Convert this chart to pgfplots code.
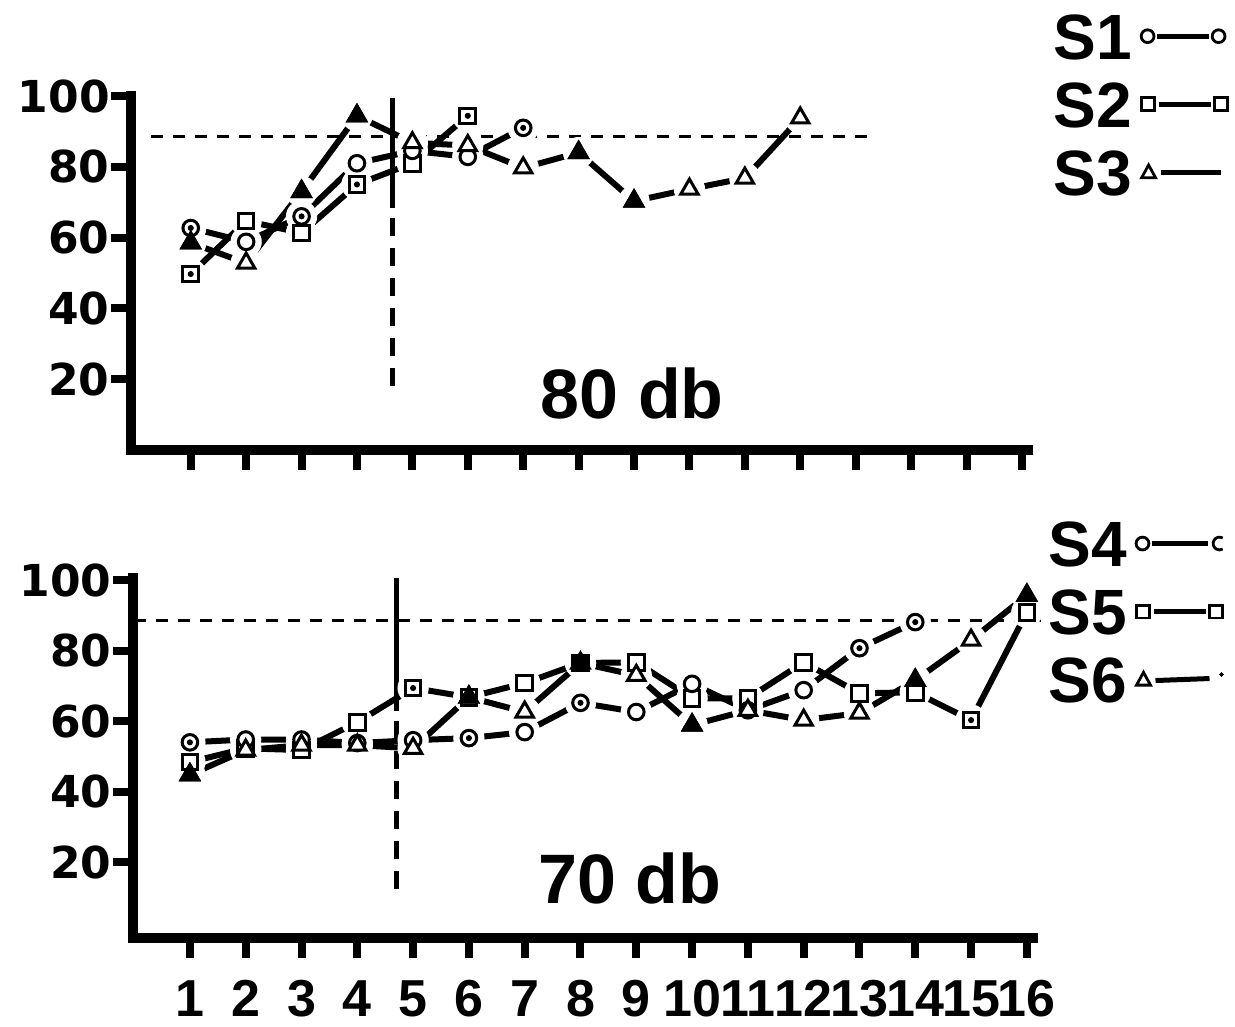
\documentclass[border=0pt]{standalone}
\usepackage{pgfplots}
\pgfplotsset{compat=1.18}
\usepackage{fontspec}
\setmainfont{Liberation Sans}
\newfontfamily\dvfont{DejaVu Sans}

\pgfplotsset{
  base/.style={
    scale only axis, anchor=south west, clip=false,
    axis lines=left,
    x axis line style={-, line width=5bp, line cap=rect},
    y axis line style={-, line width=5bp, line cap=rect},
    xtick={1,...,16}, ytick={20,40,60,80,100},
    yticklabels={20,40,60,80,100},
    tick align=outside, major tick length=10bp,
    tick style={line width=4bp, black},
    yticklabel style={font=\dvfont\bfseries\fontsize{22bp}{22bp}\selectfont, inner sep=0.5bp, anchor=east},
    xticklabel style={font=\bfseries\fontsize{26bp}{26bp}\selectfont, inner sep=0pt, anchor=north, yshift=-11bp},
    /pgf/number format/assume math mode=true,
    legend style={draw=none, fill=none, anchor=north west,
      font=\bfseries\fontsize{32bp}{32bp}\selectfont, inner sep=0pt,
      row sep=11bp, column sep=4bp,
      nodes={inner sep=0pt, text height=23bp, text depth=0pt}},
    legend plot pos=right, legend cell align=left,
  },
  ln/.style={black, line width=3bp, no markers, forget plot},
  halo/.style={only marks, mark=*, mark size=7.6bp, mark options={draw=white, fill=white}, forget plot},
  circ/.style={only marks, mark=*, mark size=3.9bp, mark options={line width=1.5bp, draw=black, fill=white}, forget plot},
  sq/.style={only marks, mark=square*, mark size=3.9bp, mark options={line width=1.5bp, draw=black, fill=white}, forget plot},
  tri/.style={only marks, mark=triangle*, mark size=5bp, mark options={line width=1.5bp, draw=black, fill=white}, forget plot},
  trif/.style={only marks, mark=triangle*, mark size=5bp, mark options={line width=1.5bp, draw=black, fill=black}, forget plot},
  sqf/.style={only marks, mark=square*, mark size=3.9bp, mark options={line width=1.5bp, draw=black, fill=black}, forget plot},
  dot/.style={only marks, mark=*, mark size=1.3bp, mark options={draw=black, fill=black}, forget plot},
  refl/.style={black, line width=2.5bp, no markers, forget plot},
  refd/.style={black, line width=2.5bp, dash pattern=on 9bp off 6bp, no markers, forget plot},
  crit/.style={black, line width=1.5bp, dash pattern=on 6bp off 5bp, no markers, forget plot},
  legcirc/.style={legend image code/.code={
    \draw[line width=2.5bp] (8bp,0) -- (34bp,0);
    \draw[line width=1.4bp] (3.5bp,0) circle (3.2bp);
    \draw[line width=1.4bp] (39bp,0) circle (3.2bp);}},
  legcircc/.style={legend image code/.code={
    \draw[line width=2.5bp] (8bp,0) -- (36bp,0);
    \draw[line width=1.4bp] (3.5bp,0) circle (3.2bp);
    \draw[line width=1.4bp] (42bp,0) ++(60:3.2bp) arc (60:300:3.2bp);}},
  legsq/.style={legend image code/.code={
    \draw[line width=2.5bp] (9bp,0) -- (35bp,0);
    \draw[line width=1.4bp] (0.5bp,-3.2bp) rectangle (6.9bp,3.2bp);
    \draw[line width=1.4bp] (37bp,-3.2bp) rectangle (43.4bp,3.2bp);}},
  legtri/.style={legend image code/.code={
    \draw[line width=2.5bp] (10bp,0) -- (40bp,0);
    \draw[line width=1.4bp] (0.5bp,-2.8bp) -- (7.5bp,-2.8bp) -- (4bp,3.6bp) -- cycle;}},
  legtrid/.style={legend image code/.code={
    \draw[line width=2.5bp] (10bp,-0.5bp) -- (37bp,0.5bp);
    \draw[line width=1.4bp] (0.5bp,-2.8bp) -- (7.5bp,-2.8bp) -- (4bp,3.6bp) -- cycle;
    \fill (43bp,2.5bp) circle (0.9bp);}},
}

\pgfplotstableread{
x y
1 62.7
2 58.8
3 66.0
4 81.0
5 84.5
6 82.8
7 91.0
}\sone
\pgfplotstableread{
x y
1 49.7
2 64.7
3 61.3
4 75.0
5 81.0
6 94.4
}\stwo
\pgfplotstableread{
x y
1 58.5
2 52.8
3 73.0
4 94.4
5 86.8
6 86.0
7 79.7
8 84.0
9 70.3
10 73.7
11 76.8
12 93.8
}\sthree
\pgfplotstableread{
x y
1 54.0
2 54.8
3 54.8
4 53.8
5 54.6
6 55.2
7 56.9
8 65.2
9 62.6
10 70.6
11 63.1
12 68.8
13 80.7
14 88.1
}\sfour
\pgfplotstableread{
x y
1 48.4
2 52.3
3 51.8
4 59.7
5 69.4
6 66.8
7 70.8
8 76.5
9 76.7
10 66.5
11 66.5
12 76.7
13 67.9
14 68.2
15 60.3
16 90.9
}\sfive
\pgfplotstableread{
x y
1 44.8
2 51.8
3 53.2
4 53.2
5 52.3
6 66.8
7 62.6
8 76.5
9 73.0
10 58.9
11 63.1
12 60.3
13 62.3
14 71.6
15 83.0
16 95.7
}\ssix

\begin{document}
\begin{tikzpicture}
\path[use as bounding box] (0,0) rectangle (617.5bp,513.5bp);

% ---------------- top panel: 80 db ----------------
\begin{axis}[base, at={(65.5bp,288.5bp)}, width=448.5bp, height=177bp,
  xmin=-0.078, xmax=16.11, ymin=0, ymax=100, xticklabels={},
  legend style={at={(1.028,1.235)}}]
\addplot[crit] coordinates {(0.29,88.5) (13.2,88.5)};
\addplot[refl] coordinates {(4.65,99.4) (4.65,68.4)};
\addplot[refd] coordinates {(4.65,65.5) (4.65,16.7)};
\addplot[ln] table {\sone};
\addplot[ln] table {\stwo};
\addplot[ln] table {\sthree};
\addplot[halo] table {\sone};
\addplot[halo] table {\stwo};
\addplot[halo] table {\sthree};
\addplot[sq] table {\stwo};
\addplot[circ] table {\sone};
\addplot[tri] table {\sthree};
\addplot[trif] coordinates {(1,58.5) (3,73.0) (4,94.4) (8,84.0) (9,70.3)};
\addplot[dot] coordinates {(1,62.7) (3,66.0) (7,91.0) (1,49.7) (4,75.0) (6,94.4)};
\node[font=\bfseries\fontsize{35bp}{35bp}\selectfont] at (axis cs:8.97,16.1) {80 db};
\addlegendimage{legcirc}\addlegendentry{S1}
\addlegendimage{legsq}\addlegendentry{S2}
\addlegendimage{legtri}\addlegendentry{S3}
\end{axis}

% ---------------- bottom panel: 70 db ----------------
\begin{axis}[base, at={(66.5bp,44.5bp)}, width=450bp, height=179.8bp,
  xmin=-0.02, xmax=16.11, ymin=-1.5, ymax=100.5,
  xticklabels={1,2,3,4,5,6,7,8,9,10,11,12,13,14,15,16},
  legend style={at={(1.0167,1.162)}}]
\addplot[crit] coordinates {(0,88.5) (16.25,88.5)};
\addplot[refl] coordinates {(4.71,100.5) (4.71,63.0)};
\addplot[refd] coordinates {(4.71,60.0) (4.71,9.2)};
\addplot[ln] table {\sfour};
\addplot[ln] table {\sfive};
\addplot[ln] table {\ssix};
\addplot[halo] table {\sfour};
\addplot[halo] table {\sfive};
\addplot[halo] table {\ssix};
\addplot[sq] table {\sfive};
\addplot[circ] table {\sfour};
\addplot[tri] table {\ssix};
\addplot[trif] coordinates {(1,44.8) (6,66.8) (10,58.9) (14,71.6) (16,95.7)};
\addplot[sqf] coordinates {(8,76.5)};
\addplot[dot] coordinates {(1,54.0) (6,55.2) (8,65.2) (13,80.7) (14,88.1) (5,69.4) (15,60.3)};
\node[font=\bfseries\fontsize{35bp}{35bp}\selectfont] at (axis cs:8.89,15.5) {70 db};
\addlegendimage{legcircc}\addlegendentry{S4}
\addlegendimage{legsq}\addlegendentry{S5}
\addlegendimage{legtrid}\addlegendentry{S6}
\end{axis}
\end{tikzpicture}
\end{document}
